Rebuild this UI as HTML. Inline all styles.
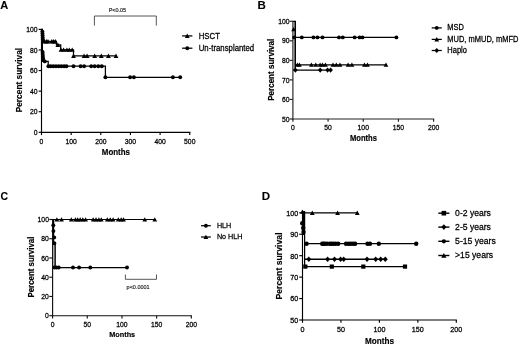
<!DOCTYPE html>
<html><head><meta charset="utf-8"><style>
html,body{margin:0;padding:0;background:#fff;}
body{width:520px;height:346px;overflow:hidden;}
svg{display:block;font-family:"Liberation Sans", sans-serif;will-change:transform;}
</style></head><body>
<svg width="520" height="346" viewBox="0 0 520 346">
<rect width="520" height="346" fill="#fff"/>
<text transform="translate(0.2,8.8) scale(1,1)" font-size="11" text-anchor="start" font-weight="bold" fill="#000" stroke="#000" stroke-width="0.1">A</text>
<line x1="41.5" y1="29.1" x2="41.5" y2="132.88" stroke="#000" stroke-width="1.15"/>
<line x1="40.92" y1="132.3" x2="190.32" y2="132.3" stroke="#000" stroke-width="1.15"/>
<line x1="38.7" y1="29.4" x2="41.5" y2="29.4" stroke="#000" stroke-width="1.15"/>
<text transform="translate(37.6,32.08) scale(1,1.1)" font-size="6.8" text-anchor="end" fill="#000" stroke="#000" stroke-width="0.24">100</text>
<line x1="38.7" y1="49.98" x2="41.5" y2="49.98" stroke="#000" stroke-width="1.15"/>
<text transform="translate(37.6,52.66) scale(1,1.1)" font-size="6.8" text-anchor="end" fill="#000" stroke="#000" stroke-width="0.24">80</text>
<line x1="38.7" y1="70.56" x2="41.5" y2="70.56" stroke="#000" stroke-width="1.15"/>
<text transform="translate(37.6,73.24) scale(1,1.1)" font-size="6.8" text-anchor="end" fill="#000" stroke="#000" stroke-width="0.24">60</text>
<line x1="38.7" y1="91.14" x2="41.5" y2="91.14" stroke="#000" stroke-width="1.15"/>
<text transform="translate(37.6,93.82) scale(1,1.1)" font-size="6.8" text-anchor="end" fill="#000" stroke="#000" stroke-width="0.24">40</text>
<line x1="38.7" y1="111.72" x2="41.5" y2="111.72" stroke="#000" stroke-width="1.15"/>
<text transform="translate(37.6,114.4) scale(1,1.1)" font-size="6.8" text-anchor="end" fill="#000" stroke="#000" stroke-width="0.24">20</text>
<line x1="38.7" y1="132.3" x2="41.5" y2="132.3" stroke="#000" stroke-width="1.15"/>
<text transform="translate(37.6,134.98) scale(1,1.1)" font-size="6.8" text-anchor="end" fill="#000" stroke="#000" stroke-width="0.24">0</text>
<line x1="41.5" y1="132.3" x2="41.5" y2="135.1" stroke="#000" stroke-width="1.15"/>
<text transform="translate(41.5,143.9) scale(1,1.1)" font-size="6.8" text-anchor="middle" fill="#000" stroke="#000" stroke-width="0.24">0</text>
<line x1="71.15" y1="132.3" x2="71.15" y2="135.1" stroke="#000" stroke-width="1.15"/>
<text transform="translate(71.15,143.9) scale(1,1.1)" font-size="6.8" text-anchor="middle" fill="#000" stroke="#000" stroke-width="0.24">100</text>
<line x1="100.8" y1="132.3" x2="100.8" y2="135.1" stroke="#000" stroke-width="1.15"/>
<text transform="translate(100.8,143.9) scale(1,1.1)" font-size="6.8" text-anchor="middle" fill="#000" stroke="#000" stroke-width="0.24">200</text>
<line x1="130.45" y1="132.3" x2="130.45" y2="135.1" stroke="#000" stroke-width="1.15"/>
<text transform="translate(130.45,143.9) scale(1,1.1)" font-size="6.8" text-anchor="middle" fill="#000" stroke="#000" stroke-width="0.24">300</text>
<line x1="160.1" y1="132.3" x2="160.1" y2="135.1" stroke="#000" stroke-width="1.15"/>
<text transform="translate(160.1,143.9) scale(1,1.1)" font-size="6.8" text-anchor="middle" fill="#000" stroke="#000" stroke-width="0.24">400</text>
<line x1="189.75" y1="132.3" x2="189.75" y2="135.1" stroke="#000" stroke-width="1.15"/>
<text transform="translate(189.75,143.9) scale(1,1.1)" font-size="6.8" text-anchor="middle" fill="#000" stroke="#000" stroke-width="0.24">500</text>
<text transform="translate(22,80.1) rotate(-90) scale(1,1)" font-size="8.35" font-weight="bold" text-anchor="middle" stroke="#000" stroke-width="0.15">Percent survival</text>
<text transform="translate(115.9,154.9) scale(1,1.1)" font-size="7.9" text-anchor="middle" font-weight="bold" fill="#000" stroke="#000" stroke-width="0.15">Months</text>
<path d="M94.4,25.6V16H156.3V25.6" fill="none" stroke="#444" stroke-width="0.9"/>
<text transform="translate(117.4,12.2) scale(1,1.1)" font-size="5.5" text-anchor="middle" fill="#222" stroke="#222" stroke-width="0.15">P&lt;0.05</text>
<path d="M41.5,29.4H42.2V41.4H56.4V44.9H60.7V49.8H73.5V55.9H117" fill="none" stroke="#000" stroke-width="1.25"/>
<path d="M41.9,43.42L44.3,39.12L46.7,43.42Z"/>
<path d="M43.9,43.42L46.3,39.12L48.7,43.42Z"/>
<path d="M45.6,43.42L48,39.12L50.4,43.42Z"/>
<path d="M49.4,43.42L51.8,39.12L54.2,43.42Z"/>
<path d="M51.2,43.42L53.6,39.12L56,43.42Z"/>
<path d="M52.9,43.42L55.3,39.12L57.7,43.42Z"/>
<path d="M55.5,46.92L57.9,42.62L60.3,46.92Z"/>
<path d="M58.6,51.82L61,47.52L63.4,51.82Z"/>
<path d="M61.2,51.82L63.6,47.52L66,51.82Z"/>
<path d="M64.5,51.82L66.9,47.52L69.3,51.82Z"/>
<path d="M66.9,51.82L69.3,47.52L71.7,51.82Z"/>
<path d="M69.8,51.82L72.2,47.52L74.6,51.82Z"/>
<path d="M71.1,57.92L73.5,53.62L75.9,57.92Z"/>
<path d="M81.7,57.92L84.1,53.62L86.5,57.92Z"/>
<path d="M84.7,57.92L87.1,53.62L89.5,57.92Z"/>
<path d="M92.3,57.92L94.7,53.62L97.1,57.92Z"/>
<path d="M98.9,57.92L101.3,53.62L103.7,57.92Z"/>
<path d="M106,57.92L108.4,53.62L110.8,57.92Z"/>
<path d="M113.6,57.92L116,53.62L118.4,57.92Z"/>
<path d="M41.5,29.4H42.4V61.4H48.2V66.2H105.4V77.3H180.4" fill="none" stroke="#000" stroke-width="1.25"/>
<circle cx="42.4" cy="31.6" r="1.95"/>
<circle cx="42.5" cy="33.6" r="1.95"/>
<circle cx="42.6" cy="35.6" r="1.95"/>
<circle cx="42.7" cy="37.6" r="1.95"/>
<circle cx="42.8" cy="39.4" r="1.95"/>
<circle cx="42.6" cy="52" r="1.95"/>
<circle cx="42.7" cy="54" r="1.95"/>
<circle cx="42.8" cy="56" r="1.95"/>
<circle cx="43" cy="58" r="1.95"/>
<circle cx="43.2" cy="59.6" r="1.95"/>
<circle cx="44.8" cy="61.4" r="1.95"/>
<circle cx="48.4" cy="66.2" r="1.95"/>
<circle cx="50.7" cy="66.2" r="1.95"/>
<circle cx="53.3" cy="66.2" r="1.95"/>
<circle cx="56" cy="66.2" r="1.95"/>
<circle cx="58.7" cy="66.2" r="1.95"/>
<circle cx="61.4" cy="66.2" r="1.95"/>
<circle cx="64.1" cy="66.2" r="1.95"/>
<circle cx="66.5" cy="66.2" r="1.95"/>
<circle cx="73.5" cy="66.2" r="1.95"/>
<circle cx="80.6" cy="66.2" r="1.95"/>
<circle cx="84.1" cy="66.2" r="1.95"/>
<circle cx="91.2" cy="66.2" r="1.95"/>
<circle cx="94.7" cy="66.2" r="1.95"/>
<circle cx="98.3" cy="66.2" r="1.95"/>
<circle cx="101.8" cy="66.2" r="1.95"/>
<circle cx="105.4" cy="77.3" r="1.95"/>
<circle cx="130.1" cy="77.3" r="1.95"/>
<circle cx="133.9" cy="77.3" r="1.95"/>
<circle cx="172.9" cy="77.3" r="1.95"/>
<circle cx="180.2" cy="77.3" r="1.95"/>
<line x1="182.1" y1="35.9" x2="192.4" y2="35.9" stroke="#000" stroke-width="1.25"/>
<path d="M184.85,37.92L187.25,33.62L189.65,37.92Z"/>
<text transform="translate(198.7,38.57) scale(1,1.1)" font-size="7.8" text-anchor="start" fill="#000" stroke="#000" stroke-width="0.24">HSCT</text>
<line x1="182.1" y1="48.2" x2="192.4" y2="48.2" stroke="#000" stroke-width="1.25"/>
<circle cx="187.25" cy="48.2" r="1.95"/>
<text transform="translate(198.7,50.87) scale(1,1.1)" font-size="7.8" text-anchor="start" fill="#000" stroke="#000" stroke-width="0.24">Un-transplanted</text>
<text transform="translate(257.4,8.7) scale(1,1)" font-size="11.5" text-anchor="start" font-weight="bold" fill="#000" stroke="#000" stroke-width="0.1">B</text>
<line x1="292.9" y1="20.95" x2="292.9" y2="119.58" stroke="#222" stroke-width="1.15"/>
<line x1="292.32" y1="119" x2="434.17" y2="119" stroke="#222" stroke-width="1.15"/>
<line x1="289.6" y1="21.25" x2="292.9" y2="21.25" stroke="#222" stroke-width="1.15"/>
<text transform="translate(289.6,23.93) scale(1,1.1)" font-size="6.8" text-anchor="end" fill="#000" stroke="#000" stroke-width="0.24">100</text>
<line x1="289.6" y1="40.8" x2="292.9" y2="40.8" stroke="#222" stroke-width="1.15"/>
<text transform="translate(289.6,43.48) scale(1,1.1)" font-size="6.8" text-anchor="end" fill="#000" stroke="#000" stroke-width="0.24">90</text>
<line x1="289.6" y1="60.35" x2="292.9" y2="60.35" stroke="#222" stroke-width="1.15"/>
<text transform="translate(289.6,63.03) scale(1,1.1)" font-size="6.8" text-anchor="end" fill="#000" stroke="#000" stroke-width="0.24">80</text>
<line x1="289.6" y1="79.9" x2="292.9" y2="79.9" stroke="#222" stroke-width="1.15"/>
<text transform="translate(289.6,82.58) scale(1,1.1)" font-size="6.8" text-anchor="end" fill="#000" stroke="#000" stroke-width="0.24">70</text>
<line x1="289.6" y1="99.45" x2="292.9" y2="99.45" stroke="#222" stroke-width="1.15"/>
<text transform="translate(289.6,102.13) scale(1,1.1)" font-size="6.8" text-anchor="end" fill="#000" stroke="#000" stroke-width="0.24">60</text>
<line x1="289.6" y1="119" x2="292.9" y2="119" stroke="#222" stroke-width="1.15"/>
<text transform="translate(289.6,121.68) scale(1,1.1)" font-size="6.8" text-anchor="end" fill="#000" stroke="#000" stroke-width="0.24">50</text>
<line x1="292.9" y1="119" x2="292.9" y2="121.8" stroke="#222" stroke-width="1.15"/>
<text transform="translate(292.9,129.8) scale(1,1.1)" font-size="6.8" text-anchor="middle" fill="#000" stroke="#000" stroke-width="0.24">0</text>
<line x1="328.07" y1="119" x2="328.07" y2="121.8" stroke="#222" stroke-width="1.15"/>
<text transform="translate(328.07,129.8) scale(1,1.1)" font-size="6.8" text-anchor="middle" fill="#000" stroke="#000" stroke-width="0.24">50</text>
<line x1="363.25" y1="119" x2="363.25" y2="121.8" stroke="#222" stroke-width="1.15"/>
<text transform="translate(363.25,129.8) scale(1,1.1)" font-size="6.8" text-anchor="middle" fill="#000" stroke="#000" stroke-width="0.24">100</text>
<line x1="398.42" y1="119" x2="398.42" y2="121.8" stroke="#222" stroke-width="1.15"/>
<text transform="translate(398.42,129.8) scale(1,1.1)" font-size="6.8" text-anchor="middle" fill="#000" stroke="#000" stroke-width="0.24">150</text>
<line x1="433.6" y1="119" x2="433.6" y2="121.8" stroke="#222" stroke-width="1.15"/>
<text transform="translate(433.6,129.8) scale(1,1.1)" font-size="6.8" text-anchor="middle" fill="#000" stroke="#000" stroke-width="0.24">200</text>
<text transform="translate(274,69.75) rotate(-90) scale(1,1.15)" font-size="8.05" font-weight="bold" text-anchor="middle" stroke="#000" stroke-width="0.15">Percent survival</text>
<text transform="translate(363.4,141) scale(1,1.1)" font-size="7.6" text-anchor="middle" font-weight="bold" fill="#000" stroke="#000" stroke-width="0.15">Months</text>
<rect x="293.4" y="21.3" width="2" height="48" fill="#888"/>
<path d="M292.9,21.25H295.4V37.4H396.4" fill="none" stroke="#000" stroke-width="1.25"/>
<line x1="295.4" y1="37.4" x2="295.4" y2="70.1" stroke="#000" stroke-width="1.25"/>
<line x1="295.4" y1="64.8" x2="386" y2="64.8" stroke="#000" stroke-width="1.25"/>
<line x1="293.2" y1="70.1" x2="330.4" y2="70.1" stroke="#000" stroke-width="1.25"/>
<circle cx="294.2" cy="37.4" r="1.95"/>
<circle cx="301.8" cy="37.4" r="1.95"/>
<circle cx="313.4" cy="37.4" r="1.95"/>
<circle cx="317.4" cy="37.4" r="1.95"/>
<circle cx="322.5" cy="37.4" r="1.95"/>
<circle cx="339" cy="37.4" r="1.95"/>
<circle cx="342.8" cy="37.4" r="1.95"/>
<circle cx="354.6" cy="37.4" r="1.95"/>
<circle cx="359.6" cy="37.4" r="1.95"/>
<circle cx="362.5" cy="37.4" r="1.95"/>
<circle cx="396.4" cy="37.4" r="1.95"/>
<path d="M291.2,31.22L293.6,26.92L296,31.22Z"/>
<path d="M295,66.82L297.4,62.52L299.8,66.82Z"/>
<path d="M297,66.82L299.4,62.52L301.8,66.82Z"/>
<path d="M309,66.82L311.4,62.52L313.8,66.82Z"/>
<path d="M313.4,66.82L315.8,62.52L318.2,66.82Z"/>
<path d="M317.7,66.82L320.1,62.52L322.5,66.82Z"/>
<path d="M320.1,66.82L322.5,62.52L324.9,66.82Z"/>
<path d="M323,66.82L325.4,62.52L327.8,66.82Z"/>
<path d="M330.6,66.82L333,62.52L335.4,66.82Z"/>
<path d="M333.9,66.82L336.3,62.52L338.7,66.82Z"/>
<path d="M337.6,66.82L340,62.52L342.4,66.82Z"/>
<path d="M345.7,66.82L348.1,62.52L350.5,66.82Z"/>
<path d="M349.5,66.82L351.9,62.52L354.3,66.82Z"/>
<path d="M362,66.82L364.4,62.52L366.8,66.82Z"/>
<path d="M365.1,66.82L367.5,62.52L369.9,66.82Z"/>
<path d="M383.6,66.82L386,62.52L388.4,66.82Z"/>
<path d="M295.4,67.5L297.7,70.1L295.4,72.7L293.1,70.1Z"/>
<path d="M320.2,67.5L322.5,70.1L320.2,72.7L317.9,70.1Z"/>
<path d="M327.6,67.5L329.9,70.1L327.6,72.7L325.3,70.1Z"/>
<path d="M330.6,67.5L332.9,70.1L330.6,72.7L328.3,70.1Z"/>
<line x1="431.7" y1="27.9" x2="441.8" y2="27.9" stroke="#000" stroke-width="1.25"/>
<circle cx="436.75" cy="27.9" r="1.95"/>
<text transform="translate(447.3,30.45) scale(1,1.1)" font-size="7.5" text-anchor="start" fill="#000" stroke="#000" stroke-width="0.24">MSD</text>
<line x1="431.7" y1="39.4" x2="441.8" y2="39.4" stroke="#000" stroke-width="1.25"/>
<path d="M434.35,41.42L436.75,37.12L439.15,41.42Z"/>
<text transform="translate(447.3,41.95) scale(1,1.1)" font-size="7.5" text-anchor="start" fill="#000" stroke="#000" stroke-width="0.24">MUD, mMUD, mMFD</text>
<line x1="431.7" y1="50.5" x2="441.8" y2="50.5" stroke="#000" stroke-width="1.25"/>
<path d="M436.75,47.9L439.05,50.5L436.75,53.1L434.45,50.5Z"/>
<text transform="translate(447.3,53.05) scale(1,1.1)" font-size="7.5" text-anchor="start" fill="#000" stroke="#000" stroke-width="0.24">Haplo</text>
<text transform="translate(0.4,200.1) scale(1,1)" font-size="10.5" text-anchor="start" font-weight="bold" fill="#000" stroke="#000" stroke-width="0.1">C</text>
<line x1="52.6" y1="219.2" x2="52.6" y2="316.27" stroke="#111" stroke-width="1.15"/>
<line x1="52.02" y1="315.7" x2="191.87" y2="315.7" stroke="#111" stroke-width="1.15"/>
<line x1="49.3" y1="219.5" x2="52.6" y2="219.5" stroke="#111" stroke-width="1.15"/>
<text transform="translate(48.9,222.18) scale(1,1.1)" font-size="6.8" text-anchor="end" fill="#000" stroke="#000" stroke-width="0.24">100</text>
<line x1="49.3" y1="238.74" x2="52.6" y2="238.74" stroke="#111" stroke-width="1.15"/>
<text transform="translate(48.9,241.42) scale(1,1.1)" font-size="6.8" text-anchor="end" fill="#000" stroke="#000" stroke-width="0.24">80</text>
<line x1="49.3" y1="257.98" x2="52.6" y2="257.98" stroke="#111" stroke-width="1.15"/>
<text transform="translate(48.9,260.66) scale(1,1.1)" font-size="6.8" text-anchor="end" fill="#000" stroke="#000" stroke-width="0.24">60</text>
<line x1="49.3" y1="277.22" x2="52.6" y2="277.22" stroke="#111" stroke-width="1.15"/>
<text transform="translate(48.9,279.9) scale(1,1.1)" font-size="6.8" text-anchor="end" fill="#000" stroke="#000" stroke-width="0.24">40</text>
<line x1="49.3" y1="296.46" x2="52.6" y2="296.46" stroke="#111" stroke-width="1.15"/>
<text transform="translate(48.9,299.14) scale(1,1.1)" font-size="6.8" text-anchor="end" fill="#000" stroke="#000" stroke-width="0.24">20</text>
<line x1="49.3" y1="315.7" x2="52.6" y2="315.7" stroke="#111" stroke-width="1.15"/>
<text transform="translate(48.9,318.38) scale(1,1.1)" font-size="6.8" text-anchor="end" fill="#000" stroke="#000" stroke-width="0.24">0</text>
<line x1="52.6" y1="315.7" x2="52.6" y2="318.5" stroke="#111" stroke-width="1.15"/>
<text transform="translate(52.6,326.8) scale(1,1.1)" font-size="6.8" text-anchor="middle" fill="#000" stroke="#000" stroke-width="0.24">0</text>
<line x1="87.28" y1="315.7" x2="87.28" y2="318.5" stroke="#111" stroke-width="1.15"/>
<text transform="translate(87.28,326.8) scale(1,1.1)" font-size="6.8" text-anchor="middle" fill="#000" stroke="#000" stroke-width="0.24">50</text>
<line x1="121.95" y1="315.7" x2="121.95" y2="318.5" stroke="#111" stroke-width="1.15"/>
<text transform="translate(121.95,326.8) scale(1,1.1)" font-size="6.8" text-anchor="middle" fill="#000" stroke="#000" stroke-width="0.24">100</text>
<line x1="156.62" y1="315.7" x2="156.62" y2="318.5" stroke="#111" stroke-width="1.15"/>
<text transform="translate(156.62,326.8) scale(1,1.1)" font-size="6.8" text-anchor="middle" fill="#000" stroke="#000" stroke-width="0.24">150</text>
<line x1="191.3" y1="315.7" x2="191.3" y2="318.5" stroke="#111" stroke-width="1.15"/>
<text transform="translate(191.3,326.8) scale(1,1.1)" font-size="6.8" text-anchor="middle" fill="#000" stroke="#000" stroke-width="0.24">200</text>
<text transform="translate(34.2,267.1) rotate(-90) scale(1,1.1)" font-size="7.9" font-weight="bold" text-anchor="middle" stroke="#000" stroke-width="0.15">Percent survival</text>
<text transform="translate(122.2,337) scale(1,1.1)" font-size="7.3" text-anchor="middle" font-weight="bold" fill="#000" stroke="#000" stroke-width="0.15">Months</text>
<rect x="53" y="243" width="2.2" height="24.5" fill="#aaa"/>
<path d="M52.6,219.5H155.5" fill="none" stroke="#000" stroke-width="1.1"/>
<path d="M52.6,219.5H53.6V243.3H55.2V267.5H127" fill="none" stroke="#000" stroke-width="1.25"/>
<path d="M54.5,221.52L56.9,217.22L59.3,221.52Z"/>
<path d="M59.1,221.52L61.5,217.22L63.9,221.52Z"/>
<path d="M68.9,221.52L71.3,217.22L73.7,221.52Z"/>
<path d="M73,221.52L75.4,217.22L77.8,221.52Z"/>
<path d="M75.3,221.52L77.7,217.22L80.1,221.52Z"/>
<path d="M77.8,221.52L80.2,217.22L82.6,221.52Z"/>
<path d="M80.4,221.52L82.8,217.22L85.2,221.52Z"/>
<path d="M83.2,221.52L85.6,217.22L88,221.52Z"/>
<path d="M90.8,221.52L93.2,217.22L95.6,221.52Z"/>
<path d="M93.6,221.52L96,217.22L98.4,221.52Z"/>
<path d="M96.5,221.52L98.9,217.22L101.3,221.52Z"/>
<path d="M98.9,221.52L101.3,217.22L103.7,221.52Z"/>
<path d="M104.9,221.52L107.3,217.22L109.7,221.52Z"/>
<path d="M107.8,221.52L110.2,217.22L112.6,221.52Z"/>
<path d="M110.7,221.52L113.1,217.22L115.5,221.52Z"/>
<path d="M115.9,221.52L118.3,217.22L120.7,221.52Z"/>
<path d="M118.8,221.52L121.2,217.22L123.6,221.52Z"/>
<path d="M121.1,221.52L123.5,217.22L125.9,221.52Z"/>
<path d="M142.4,221.52L144.8,217.22L147.2,221.52Z"/>
<path d="M152.4,221.52L154.8,217.22L157.2,221.52Z"/>
<circle cx="53.3" cy="225.2" r="1.95"/>
<circle cx="53.4" cy="231.1" r="1.95"/>
<circle cx="54.2" cy="237.4" r="1.95"/>
<circle cx="54.3" cy="243.3" r="1.95"/>
<circle cx="54.5" cy="267.5" r="1.95"/>
<circle cx="56.5" cy="267.5" r="1.95"/>
<circle cx="58.7" cy="267.5" r="1.95"/>
<circle cx="73" cy="267.5" r="1.95"/>
<circle cx="79.1" cy="267.5" r="1.95"/>
<circle cx="90.3" cy="267.5" r="1.95"/>
<circle cx="127" cy="267.5" r="1.95"/>
<path d="M125.4,274.5V279.3H156.5V274.5" fill="none" stroke="#444" stroke-width="0.9"/>
<text transform="translate(138.1,289.2) scale(1,1.1)" font-size="5.5" text-anchor="middle" fill="#222" stroke="#222" stroke-width="0.15">p&lt;0.0001</text>
<line x1="201" y1="225.7" x2="210.8" y2="225.7" stroke="#000" stroke-width="1.25"/>
<circle cx="205.9" cy="225.7" r="1.95"/>
<text transform="translate(216.9,228.14) scale(1,1.1)" font-size="7.2" text-anchor="start" fill="#000" stroke="#000" stroke-width="0.24">HLH</text>
<line x1="201" y1="237" x2="210.8" y2="237" stroke="#000" stroke-width="1.25"/>
<path d="M203.5,239.02L205.9,234.72L208.3,239.02Z"/>
<text transform="translate(216.9,239.44) scale(1,1.1)" font-size="7.2" text-anchor="start" fill="#000" stroke="#000" stroke-width="0.24">No HLH</text>
<text transform="translate(261.8,200.2) scale(1.1,1)" font-size="10.5" text-anchor="start" font-weight="bold" fill="#000" stroke="#000" stroke-width="0.1">D</text>
<line x1="302.5" y1="212.5" x2="302.5" y2="320.57" stroke="#000" stroke-width="1.15"/>
<line x1="301.93" y1="320" x2="456.88" y2="320" stroke="#000" stroke-width="1.15"/>
<line x1="299.2" y1="212.8" x2="302.5" y2="212.8" stroke="#000" stroke-width="1.15"/>
<text transform="translate(298.2,215.64) scale(1,1.1)" font-size="7.2" text-anchor="end" fill="#000" stroke="#000" stroke-width="0.24">100</text>
<line x1="299.2" y1="234.24" x2="302.5" y2="234.24" stroke="#000" stroke-width="1.15"/>
<text transform="translate(298.2,237.08) scale(1,1.1)" font-size="7.2" text-anchor="end" fill="#000" stroke="#000" stroke-width="0.24">90</text>
<line x1="299.2" y1="255.68" x2="302.5" y2="255.68" stroke="#000" stroke-width="1.15"/>
<text transform="translate(298.2,258.52) scale(1,1.1)" font-size="7.2" text-anchor="end" fill="#000" stroke="#000" stroke-width="0.24">80</text>
<line x1="299.2" y1="277.12" x2="302.5" y2="277.12" stroke="#000" stroke-width="1.15"/>
<text transform="translate(298.2,279.96) scale(1,1.1)" font-size="7.2" text-anchor="end" fill="#000" stroke="#000" stroke-width="0.24">70</text>
<line x1="299.2" y1="298.56" x2="302.5" y2="298.56" stroke="#000" stroke-width="1.15"/>
<text transform="translate(298.2,301.4) scale(1,1.1)" font-size="7.2" text-anchor="end" fill="#000" stroke="#000" stroke-width="0.24">60</text>
<line x1="299.2" y1="320" x2="302.5" y2="320" stroke="#000" stroke-width="1.15"/>
<text transform="translate(298.2,322.84) scale(1,1.1)" font-size="7.2" text-anchor="end" fill="#000" stroke="#000" stroke-width="0.24">50</text>
<line x1="302.5" y1="320" x2="302.5" y2="322.8" stroke="#000" stroke-width="1.15"/>
<text transform="translate(302.5,331.6) scale(1,1.1)" font-size="7.2" text-anchor="middle" fill="#000" stroke="#000" stroke-width="0.24">0</text>
<line x1="340.95" y1="320" x2="340.95" y2="322.8" stroke="#000" stroke-width="1.15"/>
<text transform="translate(340.95,331.6) scale(1,1.1)" font-size="7.2" text-anchor="middle" fill="#000" stroke="#000" stroke-width="0.24">50</text>
<line x1="379.4" y1="320" x2="379.4" y2="322.8" stroke="#000" stroke-width="1.15"/>
<text transform="translate(379.4,331.6) scale(1,1.1)" font-size="7.2" text-anchor="middle" fill="#000" stroke="#000" stroke-width="0.24">100</text>
<line x1="417.85" y1="320" x2="417.85" y2="322.8" stroke="#000" stroke-width="1.15"/>
<text transform="translate(417.85,331.6) scale(1,1.1)" font-size="7.2" text-anchor="middle" fill="#000" stroke="#000" stroke-width="0.24">150</text>
<line x1="456.3" y1="320" x2="456.3" y2="322.8" stroke="#000" stroke-width="1.15"/>
<text transform="translate(456.3,331.6) scale(1,1.1)" font-size="7.2" text-anchor="middle" fill="#000" stroke="#000" stroke-width="0.24">200</text>
<text transform="translate(281.7,266) rotate(-90) scale(1,1)" font-size="8.7" font-weight="bold" text-anchor="middle" stroke="#000" stroke-width="0.15">Percent survival</text>
<text transform="translate(379.5,344) scale(1,1.1)" font-size="8.2" text-anchor="middle" font-weight="bold" fill="#000" stroke="#000" stroke-width="0.15">Months</text>
<rect x="302" y="211" width="3" height="24" fill="#000"/>
<line x1="304.6" y1="211" x2="304.6" y2="266.4" stroke="#000" stroke-width="1.25"/>
<line x1="302.5" y1="212.9" x2="357.3" y2="212.9" stroke="#000" stroke-width="1.25"/>
<line x1="304.6" y1="243.7" x2="416.2" y2="243.7" stroke="#000" stroke-width="1.25"/>
<line x1="304.6" y1="259.2" x2="385.3" y2="259.2" stroke="#000" stroke-width="1.35"/>
<line x1="304.6" y1="266.6" x2="405" y2="266.6" stroke="#000" stroke-width="1.25"/>
<path d="M300,213.82L302.4,209.52L304.8,213.82Z"/>
<path d="M309.9,214.92L312.3,210.62L314.7,214.92Z"/>
<path d="M335.2,214.92L337.6,210.62L340,214.92Z"/>
<path d="M354.9,214.92L357.3,210.62L359.7,214.92Z"/>
<circle cx="302.2" cy="223.3" r="2.2"/>
<circle cx="303.2" cy="228" r="2.2"/>
<circle cx="303.5" cy="232" r="2.2"/>
<circle cx="306.6" cy="243.7" r="2.2"/>
<circle cx="322.2" cy="243.7" r="2.2"/>
<circle cx="323.5" cy="243.7" r="2.2"/>
<circle cx="324.8" cy="243.7" r="2.2"/>
<circle cx="327" cy="243.7" r="2.2"/>
<circle cx="329.7" cy="243.7" r="2.2"/>
<circle cx="331.6" cy="243.7" r="2.2"/>
<circle cx="333.5" cy="243.7" r="2.2"/>
<circle cx="335.7" cy="243.7" r="2.2"/>
<circle cx="338.2" cy="243.7" r="2.2"/>
<circle cx="346" cy="243.7" r="2.2"/>
<circle cx="348.5" cy="243.7" r="2.2"/>
<circle cx="350.8" cy="243.7" r="2.2"/>
<circle cx="353.2" cy="243.7" r="2.2"/>
<circle cx="355.1" cy="243.7" r="2.2"/>
<circle cx="367.5" cy="243.7" r="2.2"/>
<circle cx="370" cy="243.7" r="2.2"/>
<circle cx="378.8" cy="243.7" r="2.2"/>
<circle cx="416.2" cy="243.7" r="2.2"/>
<path d="M308.8,256.4L311.3,259.2L308.8,262L306.3,259.2Z"/>
<path d="M327.6,256.4L330.1,259.2L327.6,262L325.1,259.2Z"/>
<path d="M334.5,256.4L337,259.2L334.5,262L332,259.2Z"/>
<path d="M340.6,256.4L343.1,259.2L340.6,262L338.1,259.2Z"/>
<path d="M343.7,256.4L346.2,259.2L343.7,262L341.2,259.2Z"/>
<path d="M367,256.4L369.5,259.2L367,262L364.5,259.2Z"/>
<path d="M375.7,256.4L378.2,259.2L375.7,262L373.2,259.2Z"/>
<path d="M380.7,256.4L383.2,259.2L380.7,262L378.2,259.2Z"/>
<path d="M385.3,256.4L387.8,259.2L385.3,262L382.8,259.2Z"/>
<rect x="303.2" y="264.5" width="4.2" height="4.2"/>
<rect x="329.7" y="264.5" width="4.2" height="4.2"/>
<rect x="361.2" y="264.5" width="4.2" height="4.2"/>
<rect x="402.9" y="264.5" width="4.2" height="4.2"/>
<line x1="438.3" y1="213.2" x2="449.4" y2="213.2" stroke="#000" stroke-width="1.4"/>
<rect x="441.54" y="210.89" width="4.62" height="4.62"/>
<text transform="translate(455.1,216.19) scale(1,1.1)" font-size="8.6" text-anchor="start" fill="#000" stroke="#000" stroke-width="0.24">0-2 years</text>
<line x1="438.3" y1="227.1" x2="449.4" y2="227.1" stroke="#000" stroke-width="1.4"/>
<path d="M443.85,224.24L446.38,227.1L443.85,229.96L441.32,227.1Z"/>
<text transform="translate(455.1,230.09) scale(1,1.1)" font-size="8.6" text-anchor="start" fill="#000" stroke="#000" stroke-width="0.24">2-5 years</text>
<line x1="438.3" y1="241.3" x2="449.4" y2="241.3" stroke="#000" stroke-width="1.4"/>
<circle cx="443.85" cy="241.3" r="2.15"/>
<text transform="translate(455.1,244.29) scale(1,1.1)" font-size="8.6" text-anchor="start" fill="#000" stroke="#000" stroke-width="0.24">5-15 years</text>
<line x1="438.3" y1="255.5" x2="449.4" y2="255.5" stroke="#000" stroke-width="1.4"/>
<path d="M441.21,257.72L443.85,252.99L446.49,257.72Z"/>
<text transform="translate(455.1,258.49) scale(1,1.1)" font-size="8.6" text-anchor="start" fill="#000" stroke="#000" stroke-width="0.24">&gt;15 years</text>
</svg>
</body></html>
